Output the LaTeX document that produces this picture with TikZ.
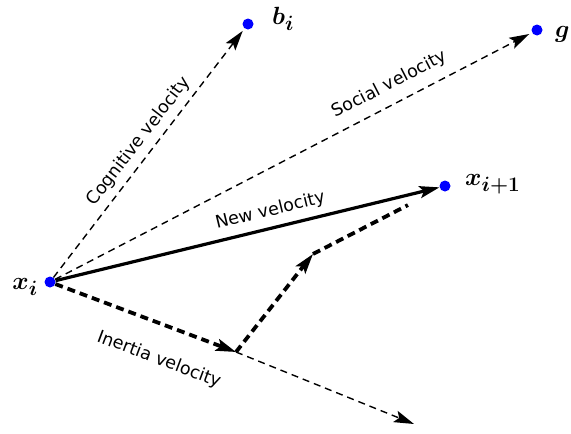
\documentclass[tikz,border=0pt]{standalone}
\usepackage{amsmath, bm}
\usepackage{fontspec}
\setsansfont{DejaVu Sans}
\DeclareMathSizes{27}{27}{21}{16}
\usetikzlibrary{arrows.meta, positioning, calc}

\begin{document}
\begin{tikzpicture}[x=1pt, y=-1pt, >={Stealth[length=20pt, width=12pt, inset=4pt]},
                    every node/.style={font=\sffamily\fontsize{17.5}{20}\selectfont},
                    pt/.style={circle, fill=blue, inner sep=0pt, minimum size=11pt},
                    lbl/.style={font=\fontsize{27}{30}\selectfont},
                    vel/.style={sloped, inner sep=2pt},
                    thindash/.style={dash pattern=on 7pt off 5pt, line width=1.4pt},
                    thickdash/.style={dash pattern=on 8pt off 5pt, line width=3.8pt}]
  \useasboundingbox (0,0) rectangle (571,434);
  % points
  \node[pt] (xi) at (50,282) {};
  \node[pt] (bi) at (248,24) {};
  \node[pt] (g)  at (537,30) {};
  \node[pt] (xn) at (445,186) {};
  \coordinate (in)   at (236,352);
  \coordinate (bend) at (313,254);
  \coordinate (far)  at (414,424);
  \node[lbl, left=3pt of xi, yshift=-5pt] (xilbl) {$\bm{x_i}$};
  \node[lbl, right=15pt of bi, yshift=5pt] (bilbl) {$\bm{b_i}$};
  \node[lbl, right=9pt of g, yshift=-4pt] (glbl) {$\bm{g}$};
  \node[lbl, right=11pt of xn, yshift=2pt] (xnlbl) {$\bm{x_{i+1}}$};
  % velocities
  \draw[thindash, ->, shorten >=3pt] (xi) -- (bi)
        node[vel, above=4pt, pos=0.51] {Cognitive velocity};
  \draw[thindash, ->, shorten >=3pt] (xi) -- (g)
        node[vel, above=8pt, pos=0.72] {Social velocity};
  \draw[thindash, ->] (in) -- (far);
  \draw[thickdash, ->] (xi) -- (in)
        node[vel, below=22pt, pos=0.64] {Inertia velocity};
  \draw[thickdash, ->] (in) -- (bend);
  \draw[thickdash, shorten >=36pt] (bend) -- (xn);
  \draw[line width=3.2pt, ->] (xi) -- (xn)
        node[vel, above=5pt, pos=0.57] {New velocity};
\end{tikzpicture}
\end{document}
